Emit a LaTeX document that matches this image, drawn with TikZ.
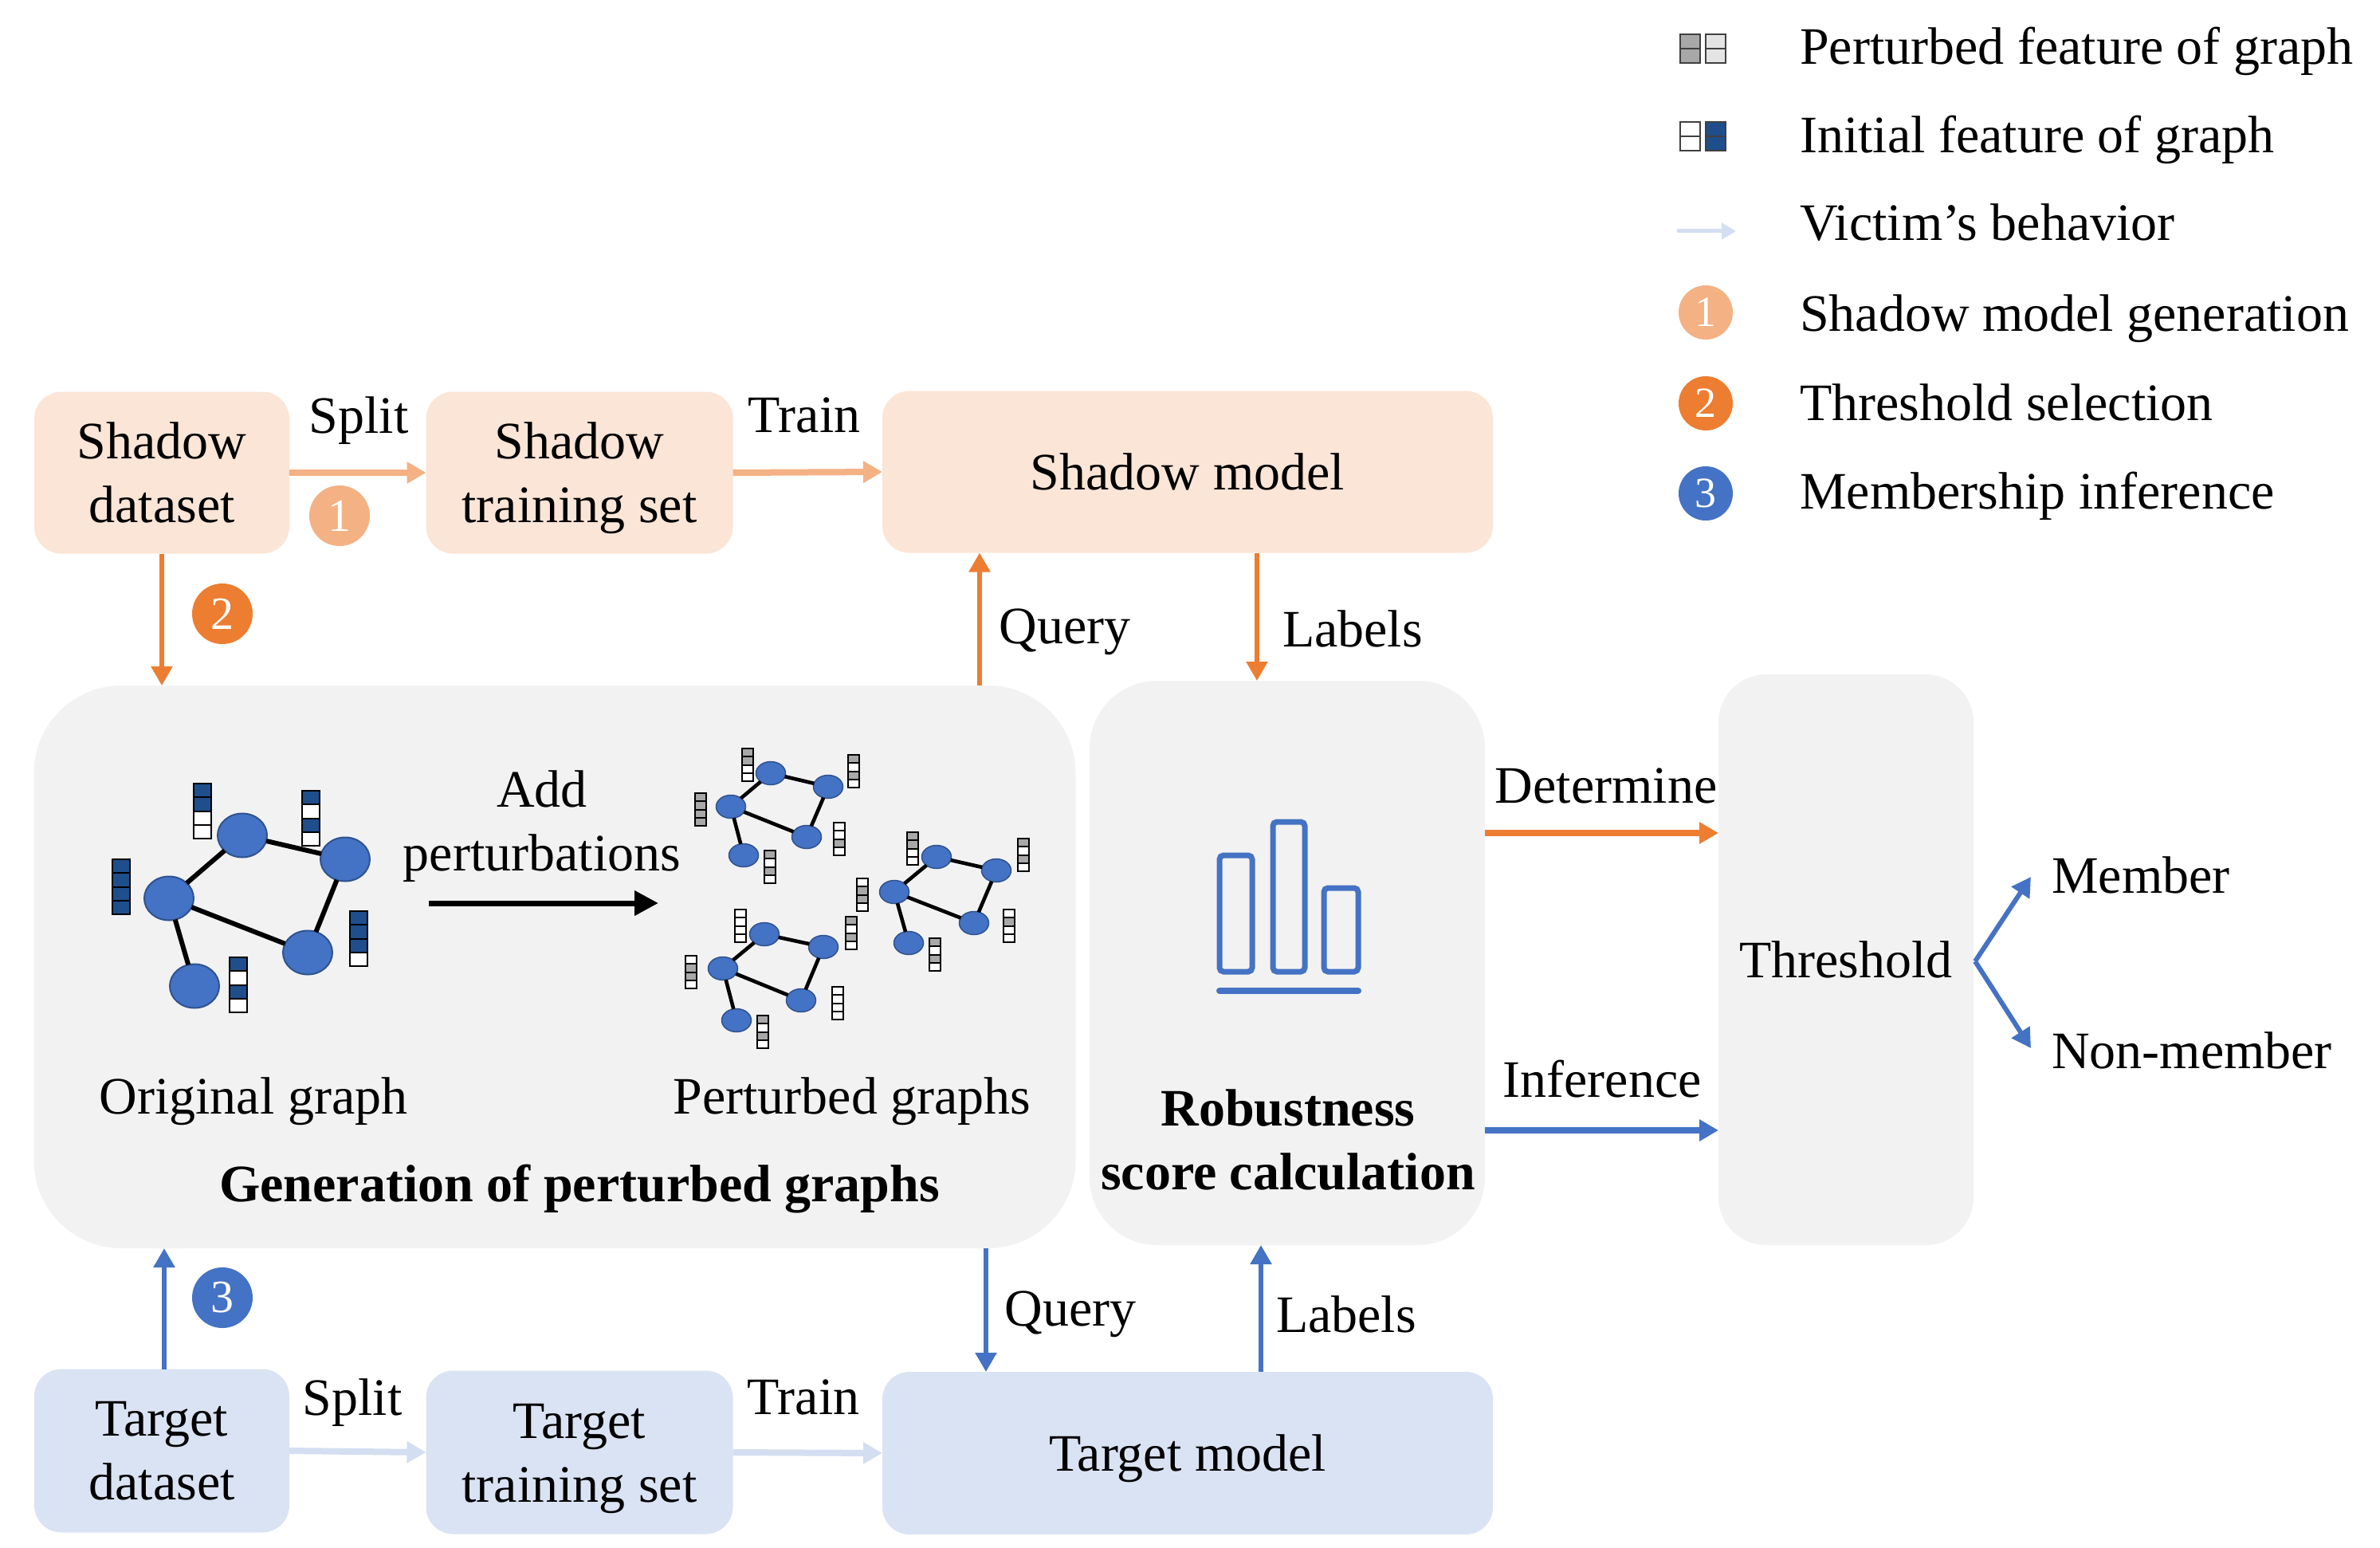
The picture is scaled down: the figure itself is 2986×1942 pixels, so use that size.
\documentclass[tikz,border=0pt]{standalone}
\usepackage{fontspec}
\setmainfont{Liberation Serif}
\usetikzlibrary{arrows.meta,shapes.geometric,calc}
\definecolor{shfill}{HTML}{FBE5D6}
\definecolor{tgfill}{HTML}{DAE3F3}
\definecolor{grfill}{HTML}{F2F2F2}
\definecolor{orA}{HTML}{ED7D31}
\definecolor{orL}{HTML}{F4B183}
\definecolor{blA}{HTML}{4472C4}
\definecolor{blL}{HTML}{D3DEF1}
\definecolor{blD}{HTML}{2F528F}
\definecolor{fD}{HTML}{1F4E8C}
\definecolor{fW}{HTML}{FFFFFF}
\definecolor{fG}{HTML}{A8A8A8}
\definecolor{fL}{HTML}{E4E4E4}
% feature bar: x, ytop, width, cell height, 4 colours
\newcommand\fbar[8]{\foreach \ii/\cc in {0/#5,1/#6,2/#7,3/#8}{\filldraw[fill=\cc,draw=black,line width=1.8pt] (#1,#2+\ii*#4) rectangle ++(#3,#4);}}
\newcommand\obar[6]{\fbar{#1}{#2}{22}{17.3}{#3}{#4}{#5}{#6}}
\newcommand\pbar[6]{\fbar{#1}{#2}{14}{10.3}{#3}{#4}{#5}{#6}}
\newcommand\tstrut{\rule{0pt}{59pt}}
\begin{document}
\begin{tikzpicture}[x=1pt,y=-1pt,
  every node/.style={font=\fontsize{66}{80}\selectfont, inner sep=0pt, outer sep=0pt},
  sbox/.style={fill=shfill, rounded corners=34pt, align=center},
  tbox/.style={fill=tgfill, rounded corners=34pt, align=center},
  gbox/.style={fill=grfill, align=center},
  lbl/.style={anchor=base},
  lblw/.style={anchor=base west},
  tipA/.style={-{Triangle[width=26pt,length=24pt]}},
  larr/.style={tipA, draw=orL, line width=8pt},
  varr/.style={tipA, draw=blL, line width=8pt},
  oarr/.style={tipA, draw=orA, line width=5.5pt},
  barr/.style={tipA, draw=blA, line width=5.5pt},
  oarrh/.style={tipA, draw=orA, line width=8pt},
  barrh/.style={tipA, draw=blA, line width=8pt},
  num/.style={circle, text=white, minimum size=76pt, font=\fontsize{58}{60}\selectfont},
  lnum/.style={circle, text=white, minimum size=68pt, font=\fontsize{54}{60}\selectfont},
  gnode/.style={ellipse, fill=blA, draw=blD, line width=2pt, minimum width=62pt, minimum height=55pt},
  pnode/.style={ellipse, fill=blA, draw=blD, line width=1.5pt, minimum width=37pt, minimum height=29pt},
  gedge/.style={draw=black, line width=6pt},
  pedge/.style={draw=black, line width=4.6pt}]
\fill[white] (0,0) rectangle (2986,1942);
\useasboundingbox (0,0) rectangle (2986,1942);

% ---------- boxes ----------
\node[sbox, minimum width=320pt, minimum height=203pt] (sd) at (203,593) {Shadow\\dataset};
\node[sbox, minimum width=385pt, minimum height=203pt] (sts) at (727,593) {\tstrut Shadow\\training set};
\node[sbox, minimum width=766pt, minimum height=203pt] (sm) at (1490,592) {Shadow model};
\node[tbox, minimum width=320pt, minimum height=205pt] (td) at (203,1820) {Target\\dataset};
\node[tbox, minimum width=385pt, minimum height=205pt] (tts) at (727,1822) {\tstrut Target\\training set};
\node[tbox, minimum width=766pt, minimum height=204pt] (tm) at (1490,1823) {\tstrut Target model};
\node[gbox, rounded corners=110pt, minimum width=1307pt, minimum height=706pt] (gen) at (696,1213) {};
\node[gbox, rounded corners=85pt, minimum width=496pt, minimum height=708pt] (rob) at (1615,1208) {};
\node[gbox, rounded corners=60pt, minimum width=320pt, minimum height=716pt] (thr) at (2316,1204) {Threshold};

% ---------- top flow ----------
\draw[larr] (sd.east) -- (sts.west);
\draw[larr] (sts.east) -- (sm.west);
\node[lbl] (tsplit) at (450,543) {Split};
\node[lbl] (ttrain) at (1009,542) {Train};
\node[num, fill=orL] (n1) at (426,647) {1};

\coordinate (xa) at (203,0);
\coordinate (xq) at (1229,0);
\coordinate (xl) at (1577,0);
\draw[oarr] (sd.south -| xa) -- (gen.north -| xa);
\node[num, fill=orA] (n2) at (279,770) {2};
\draw[oarr] (gen.north -| xq) -- (sm.south -| xq);
\draw[oarr] (sm.south -| xl) -- (rob.north -| xl);
\node[lbl] (tq1) at (1336,807) {Query};
\node[lbl] (tl1) at (1697,811) {Labels};

% ---------- bottom flow ----------
\draw[varr] (td.east) -- (tts.west);
\draw[varr] (tts.east) -- (tm.west);
\node[lbl] (bsplit) at (442,1775) {Split};
\node[lbl] (btrain) at (1008,1774) {Train};
\coordinate (xb) at (206,0);
\coordinate (xq2) at (1237,0);
\coordinate (xl2) at (1582,0);
\draw[barr] (td.north -| xb) -- (gen.south -| xb);
\node[num, fill=blA] (n3) at (279,1628) {3};
\draw[barr] (gen.south -| xq2) -- (tm.north -| xq2);
\draw[barr] (tm.north -| xl2) -- (rob.south -| xl2);
\node[lbl] (tq2) at (1343,1663) {Query};
\node[lbl] (tl2) at (1689,1671) {Labels};

% ---------- right part ----------
\coordinate (yd) at (0,1045);
\coordinate (yi) at (0,1418);
\draw[oarrh] (rob.east |- yd) -- (thr.west |- yd);
\draw[barrh] (rob.east |- yi) -- (thr.west |- yi);
\node[lbl] (tdet) at (2015,1007) {Determine};
\node[lbl] (tinf) at (2010,1376) {Inference};
\coordinate (vs) at (2478,1206);
\coordinate (vm) at (2548,1100);
\coordinate (vn) at (2548,1315);
\draw[barr, line width=6pt] (vs) -- (vm);
\draw[barr, line width=6pt] (vs) -- (vn);
\node[lblw] (tmem) at (2574,1120) {Member};
\node[lblw] (tnon) at (2574,1340) {Non-member};

% bar chart icon
\draw[blA, line width=7pt, rounded corners=5pt] (1530,1073) rectangle (1571,1219);
\draw[blA, line width=7pt, rounded corners=5pt] (1597,1031) rectangle (1637,1219);
\draw[blA, line width=7pt, rounded corners=5pt] (1661,1114) rectangle (1704,1219);
\draw[blA, line width=8pt, line cap=round] (1530,1243) -- (1704,1243);
\node[align=center, font=\fontsize{66}{80}\selectfont\bfseries] (trob) at (1616,1430) {Robustness\\score calculation};

% ---------- generation box content ----------
\node[lbl] (torig) at (318,1397) {Original graph};
\node[lbl] (tpert) at (1069,1397) {Perturbed graphs};
\node[lbl, font=\fontsize{66}{80}\selectfont\bfseries] (tgen) at (727,1507) {Generation of perturbed graphs};
\node[align=center] (tadd) at (680,1037) {Add\\perturbations};
\coordinate (ba) at (538,1133);
\coordinate (bb) at (826,1133);
\draw[line width=7pt, -{Triangle[width=30pt,length=30pt]}] (ba) -- (bb);

% original graph
\node[gnode] (o1) at (304,1048) {};
\node[gnode] (o2) at (433,1078) {};
\node[gnode] (o3) at (212,1127) {};
\node[gnode] (o4) at (386,1195) {};
\node[gnode] (o5) at (244,1237) {};
\draw[gedge] (o1) -- (o2);
\draw[gedge] (o1) -- (o3);
\draw[gedge] (o3) -- (o4);
\draw[gedge] (o2) -- (o4);
\draw[gedge] (o3) -- (o5);
\obar{243}{983}{fD}{fD}{fW}{fW}
\obar{379}{992}{fD}{fW}{fD}{fW}
\obar{141}{1078}{fD}{fD}{fD}{fD}
\obar{439}{1143}{fD}{fD}{fD}{fW}
\obar{288}{1201}{fD}{fW}{fD}{fW}

% perturbed graph A
\node[pnode] (a1) at (967,970) {};
\node[pnode] (a2) at (1039,987) {};
\node[pnode] (a3) at (917,1012) {};
\node[pnode] (a4) at (1012,1050) {};
\node[pnode] (a5) at (933,1073) {};
\draw[pedge] (a1) -- (a2);
\draw[pedge] (a1) -- (a3);
\draw[pedge] (a3) -- (a4);
\draw[pedge] (a2) -- (a4);
\draw[pedge] (a3) -- (a5);
\pbar{931}{939}{fG}{fG}{fW}{fW}
\pbar{1064}{947}{fG}{fW}{fG}{fW}
\pbar{872}{995}{fG}{fG}{fG}{fG}
\pbar{1046}{1032}{fW}{fW}{fG}{fW}
\pbar{959}{1067}{fG}{fW}{fG}{fW}

% perturbed graph B
\node[pnode] (b1) at (959,1172) {};
\node[pnode] (b2) at (1033,1188) {};
\node[pnode] (b3) at (907,1215) {};
\node[pnode] (b4) at (1005,1255) {};
\node[pnode] (b5) at (924,1280) {};
\draw[pedge] (b1) -- (b2);
\draw[pedge] (b1) -- (b3);
\draw[pedge] (b3) -- (b4);
\draw[pedge] (b2) -- (b4);
\draw[pedge] (b3) -- (b5);
\pbar{922}{1141}{fW}{fW}{fW}{fW}
\pbar{1061}{1150}{fG}{fW}{fG}{fW}
\pbar{860}{1199}{fW}{fG}{fG}{fW}
\pbar{1044}{1238}{fW}{fW}{fW}{fW}
\pbar{950}{1274}{fG}{fW}{fG}{fW}

% perturbed graph C
\node[pnode] (c1) at (1175,1075) {};
\node[pnode] (c2) at (1250,1092) {};
\node[pnode] (c3) at (1122,1119) {};
\node[pnode] (c4) at (1222,1158) {};
\node[pnode] (c5) at (1140,1183) {};
\draw[pedge] (c1) -- (c2);
\draw[pedge] (c1) -- (c3);
\draw[pedge] (c3) -- (c4);
\draw[pedge] (c2) -- (c4);
\draw[pedge] (c3) -- (c5);
\pbar{1138}{1044}{fG}{fG}{fW}{fW}
\pbar{1277}{1052}{fG}{fW}{fG}{fW}
\pbar{1075}{1102}{fW}{fG}{fG}{fW}
\pbar{1259}{1141}{fW}{fG}{fW}{fW}
\pbar{1166}{1177}{fG}{fW}{fG}{fW}

% ---------- legend ----------
\foreach \yy/\cA/\cB in {43/fG/fL,153/fW/fD}{
  \filldraw[fill=\cA, draw=black!75, line width=2pt] (2108,\yy) rectangle ++(25,18);
  \filldraw[fill=\cA, draw=black!75, line width=2pt] (2108,\yy+18) rectangle ++(25,18);
  \filldraw[fill=\cB, draw=black!75, line width=2pt] (2140,\yy) rectangle ++(25,18);
  \filldraw[fill=\cB, draw=black!75, line width=2pt] (2140,\yy+18) rectangle ++(25,18);
}
\coordinate (lva) at (2104,290);
\coordinate (lvb) at (2178,290);
\draw[draw=blL, line width=5pt, -{Triangle[width=20pt,length=18pt]}] (lva) -- (lvb);
\node[lnum, fill=orL] (l1) at (2140,392) {1};
\node[lnum, fill=orA] (l2) at (2140,506) {2};
\node[lnum, fill=blA] (l3) at (2140,619) {3};
\node[lblw] (lt1) at (2258,81) {Perturbed feature of graph};
\node[lblw] (lt2) at (2258,192) {Initial feature of graph};
\node[lblw] (lt3) at (2258,302) {Victim’s behavior};
\node[lblw] (lt4) at (2258,415) {Shadow model generation};
\node[lblw] (lt5) at (2258,527) {Threshold selection};
\node[lblw] (lt6) at (2258,638) {Membership inference};
\end{tikzpicture}
\end{document}
